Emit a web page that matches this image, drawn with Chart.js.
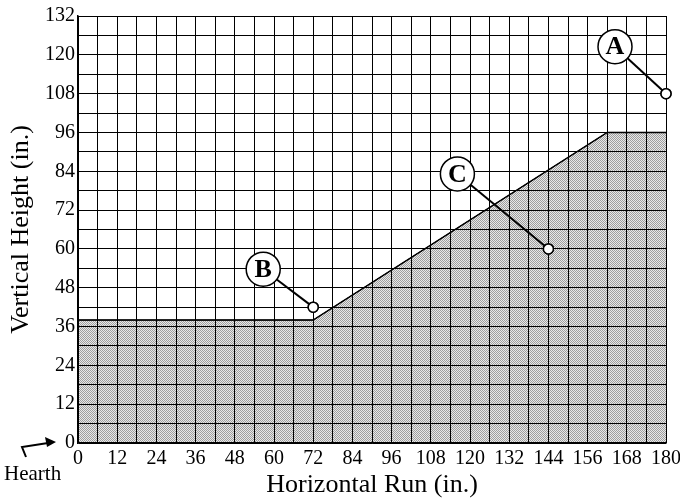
<!DOCTYPE html>
<html>
<head>
<meta charset="utf-8">
<script src="https://cdn.jsdelivr.net/npm/chart.js@4.4.1/dist/chart.umd.min.js"></script>
<style>
html,body{margin:0;padding:0;background:#fff;}
#wrap{width:680px;height:501px;}
</style>
</head>
<body>
<div id="wrap"><canvas id="c" width="680" height="501"></canvas></div>
<script>
// ---- data ----
const profileX = [0, 72, 162, 180];
const profileY = [38, 38, 96, 96];
const markNames = ['A', 'B', 'C'];
const markX = [180, 72, 144];
const markY = [108, 42, 60];
const xTicks = [0, 12, 24, 36, 48, 60, 72, 84, 96, 108, 120, 132, 144, 156, 168, 180];
const yTicks = [0, 12, 24, 36, 48, 60, 72, 84, 96, 108, 120, 132];

// label bubble offsets (pixels, style)
const bubbleOffset = { A: [-51, -47], B: [-50, -38], C: [-91, -75] };

function makePattern() {
  const p = document.createElement('canvas');
  p.width = 2; p.height = 2;
  const g = p.getContext('2d');
  g.fillStyle = '#e8e8e8'; g.fillRect(0, 0, 2, 2);
  g.fillStyle = '#9e9e9e'; g.fillRect(0, 0, 1, 1); g.fillRect(1, 1, 1, 1);
  return g.createPattern(p, 'repeat');
}

const serif = "'Liberation Serif', 'DejaVu Serif', serif";

const overlay = {
  id: 'overlay',
  afterDraw(chart) {
    const ctx = chart.ctx;
    const xs = chart.scales.x, ys = chart.scales.y;
    ctx.save();
    // profile outline above grid
    ctx.strokeStyle = '#000';
    ctx.lineWidth = 1.5;
    ctx.beginPath();
    chart.getDatasetMeta(0).data.forEach((el, i) => { if (i === 0) ctx.moveTo(el.x, el.y); else ctx.lineTo(el.x, el.y); });
    ctx.stroke();
    markNames.forEach((n, i) => {
      const px = xs.getPixelForValue(markX[i]);
      const py = ys.getPixelForValue(markY[i]);
      const bx = px + bubbleOffset[n][0];
      const by = py + bubbleOffset[n][1];
      const R = 17, r = 5;
      const dx = px - bx, dy = py - by, d = Math.hypot(dx, dy);
      ctx.strokeStyle = '#000';
      ctx.lineWidth = 2;
      ctx.beginPath();
      ctx.moveTo(bx + dx / d * R, by + dy / d * R);
      ctx.lineTo(px - dx / d * r, py - dy / d * r);
      ctx.stroke();
      ctx.beginPath();
      ctx.arc(bx, by, R, 0, Math.PI * 2);
      ctx.fillStyle = '#fff';
      ctx.fill();
      ctx.lineWidth = 1.5;
      ctx.stroke();
      ctx.fillStyle = '#000';
      ctx.font = "bold 26px " + serif;
      ctx.textAlign = 'center';
      ctx.textBaseline = 'middle';
      ctx.fillText(n, bx, by + 1);
    });
    // data point markers above the grid
    chart.getDatasetMeta(1).data.forEach(el => el.draw(ctx));
    // hearth arrow
    const ox = xs.left, oy = ys.bottom;
    ctx.strokeStyle = '#000';
    ctx.lineWidth = 2;
    ctx.beginPath();
    ctx.moveTo(ox - 52, oy + 14);
    ctx.lineTo(ox - 56, oy + 4);
    ctx.lineTo(ox - 30, oy);
    ctx.stroke();
    ctx.fillStyle = '#000';
    ctx.beginPath();
    ctx.moveTo(ox - 22, oy - 1);
    ctx.lineTo(ox - 33, oy - 6);
    ctx.lineTo(ox - 31, oy + 4);
    ctx.closePath();
    ctx.fill();
    ctx.font = "21px " + serif;
    ctx.textAlign = 'left';
    ctx.textBaseline = 'middle';
    ctx.fillText('Hearth', ox - 74, oy + 31);
    ctx.restore();
  }
};

const tickFont = { family: serif, size: 20 };
const titleFont = { family: serif, size: 26 };

new Chart(document.getElementById('c'), {
  type: 'scatter',
  data: {
    datasets: [
      {
        type: 'line',
        data: profileX.map((x, i) => ({ x, y: profileY[i] })),
        fill: 'origin',
        backgroundColor: makePattern(),
        borderColor: '#000',
        borderWidth: 1,
        pointRadius: 0,
        tension: 0,
        order: 2
      },
      {
        data: markX.map((x, i) => ({ x, y: markY[i] })),
        pointRadius: 5,
        pointBackgroundColor: '#fff',
        pointBorderColor: '#000',
        pointBorderWidth: 1.5,
        clip: false,
        order: 1
      }
    ]
  },
  options: {
    responsive: false,
    animation: false,
    devicePixelRatio: 1,
    layout: { padding: { left: 0, right: 14, top: 16, bottom: 0 } },
    plugins: { legend: { display: false }, tooltip: { enabled: false } },
    scales: {
      x: {
        type: 'linear', min: 0, max: 180,
        afterFit(s) { s.height = 58; s.paddingLeft = 0; s.paddingRight = 0; },
        afterBuildTicks(s) { s.ticks = []; for (let v = 0; v <= 180; v += 6) s.ticks.push({ value: v }); },
        ticks: {
          autoSkip: false, maxRotation: 0, padding: 4, color: '#000', font: tickFont,
          callback: (v) => xTicks.includes(v) ? String(v) : ''
        },
        grid: { color: '#000', lineWidth: 1, drawTicks: false, z: 1 },
        border: { display: true, color: '#000', width: 1.5, z: 1 },
        title: { display: true, text: 'Horizontal Run (in.)', color: '#000', font: titleFont, padding: { top: 0, bottom: 0 } }
      },
      y: {
        type: 'linear', min: 0, max: 132,
        afterFit(s) { s.width = 78; s.paddingTop = 0; s.paddingBottom = 0; },
        afterBuildTicks(s) { s.ticks = []; for (let v = 0; v <= 132; v += 6) s.ticks.push({ value: v }); },
        ticks: {
          autoSkip: false, padding: 3, color: '#000', font: tickFont,
          callback: (v) => yTicks.includes(v) ? String(v) : ''
        },
        grid: { color: '#000', lineWidth: 1, drawTicks: false, z: 1 },
        border: { display: true, color: '#000', width: 1.5, z: 1 },
        title: { display: true, text: 'Vertical Height (in.)', color: '#000', font: titleFont, padding: { top: 6, bottom: 0 } }
      }
    }
  },
  plugins: [overlay]
});
</script>
</body>
</html>
